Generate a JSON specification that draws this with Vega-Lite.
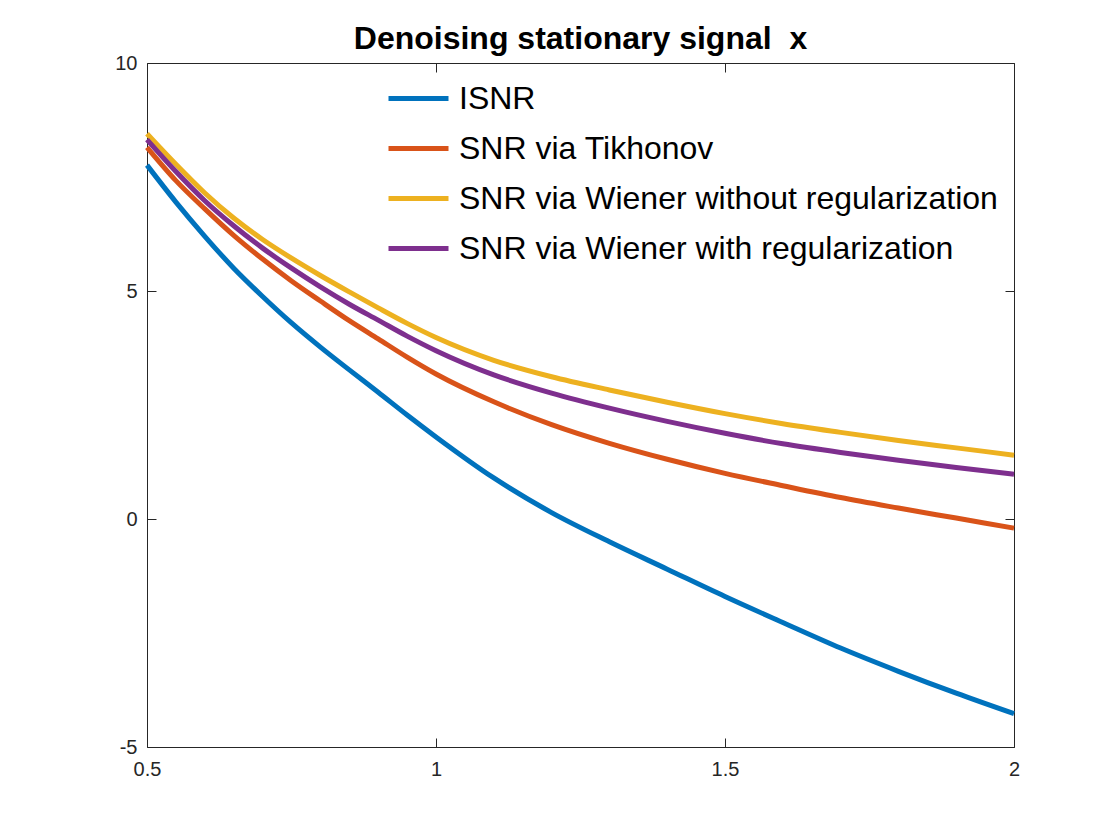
{
  "$schema": "https://vega.github.io/schema/vega-lite/v6.json",
  "autosize": "none",
  "width": 867,
  "height": 684,
  "padding": {"left": 147, "top": 63, "right": 106, "bottom": 93},
  "background": "white",
  "title": {"text": "Denoising stationary signal\u00a0 x", "font": "Liberation Sans", "fontSize": 32, "fontWeight": "bold", "color": "black", "offset": -3, "anchor": "middle"},
  "config": {"view": {"stroke": null}, "axis": {"labelFont": "Liberation Sans", "labelFontSize": 20, "labelColor": "#262626", "domainColor": "#262626", "tickColor": "#262626", "grid": false, "title": null, "labelFlush": false, "labelOverlap": false}},
  "data": {"values": [
    {"x":0.5,"s":"ISNR","v":7.76},{"x":0.55,"s":"ISNR","v":6.95},{"x":0.6,"s":"ISNR","v":6.2},{"x":0.65,"s":"ISNR","v":5.5},{"x":0.7,"s":"ISNR","v":4.88},{"x":0.75,"s":"ISNR","v":4.3},{"x":0.8,"s":"ISNR","v":3.77},{"x":0.85,"s":"ISNR","v":3.27},{"x":0.9,"s":"ISNR","v":2.78},{"x":0.95,"s":"ISNR","v":2.28},{"x":1.0,"s":"ISNR","v":1.8},{"x":1.1,"s":"ISNR","v":0.9},{"x":1.2,"s":"ISNR","v":0.14},{"x":1.3,"s":"ISNR","v":-0.5},{"x":1.4,"s":"ISNR","v":-1.1},{"x":1.5,"s":"ISNR","v":-1.7},{"x":1.6,"s":"ISNR","v":-2.27},{"x":1.7,"s":"ISNR","v":-2.83},{"x":1.8,"s":"ISNR","v":-3.34},{"x":1.9,"s":"ISNR","v":-3.82},{"x":2.0,"s":"ISNR","v":-4.27},
    {"x":0.5,"s":"SNR via Tikhonov","v":8.15},{"x":0.55,"s":"SNR via Tikhonov","v":7.42},{"x":0.6,"s":"SNR via Tikhonov","v":6.8},{"x":0.65,"s":"SNR via Tikhonov","v":6.22},{"x":0.7,"s":"SNR via Tikhonov","v":5.7},{"x":0.75,"s":"SNR via Tikhonov","v":5.22},{"x":0.8,"s":"SNR via Tikhonov","v":4.78},{"x":0.85,"s":"SNR via Tikhonov","v":4.35},{"x":0.9,"s":"SNR via Tikhonov","v":3.95},{"x":0.95,"s":"SNR via Tikhonov","v":3.55},{"x":1.0,"s":"SNR via Tikhonov","v":3.18},{"x":1.1,"s":"SNR via Tikhonov","v":2.57},{"x":1.2,"s":"SNR via Tikhonov","v":2.07},{"x":1.3,"s":"SNR via Tikhonov","v":1.66},{"x":1.4,"s":"SNR via Tikhonov","v":1.31},{"x":1.5,"s":"SNR via Tikhonov","v":1.0},{"x":1.6,"s":"SNR via Tikhonov","v":0.73},{"x":1.7,"s":"SNR via Tikhonov","v":0.47},{"x":1.8,"s":"SNR via Tikhonov","v":0.24},{"x":1.9,"s":"SNR via Tikhonov","v":0.02},{"x":2.0,"s":"SNR via Tikhonov","v":-0.2},
    {"x":0.5,"s":"SNR via Wiener without regularization","v":8.45},{"x":0.55,"s":"SNR via Wiener without regularization","v":7.78},{"x":0.6,"s":"SNR via Wiener without regularization","v":7.15},{"x":0.65,"s":"SNR via Wiener without regularization","v":6.6},{"x":0.7,"s":"SNR via Wiener without regularization","v":6.13},{"x":0.75,"s":"SNR via Wiener without regularization","v":5.72},{"x":0.8,"s":"SNR via Wiener without regularization","v":5.34},{"x":0.85,"s":"SNR via Wiener without regularization","v":4.98},{"x":0.9,"s":"SNR via Wiener without regularization","v":4.63},{"x":0.95,"s":"SNR via Wiener without regularization","v":4.29},{"x":1.0,"s":"SNR via Wiener without regularization","v":3.98},{"x":1.1,"s":"SNR via Wiener without regularization","v":3.48},{"x":1.2,"s":"SNR via Wiener without regularization","v":3.12},{"x":1.3,"s":"SNR via Wiener without regularization","v":2.83},{"x":1.4,"s":"SNR via Wiener without regularization","v":2.56},{"x":1.5,"s":"SNR via Wiener without regularization","v":2.31},{"x":1.6,"s":"SNR via Wiener without regularization","v":2.09},{"x":1.7,"s":"SNR via Wiener without regularization","v":1.9},{"x":1.8,"s":"SNR via Wiener without regularization","v":1.72},{"x":1.9,"s":"SNR via Wiener without regularization","v":1.56},{"x":2.0,"s":"SNR via Wiener without regularization","v":1.4},
    {"x":0.5,"s":"SNR via Wiener with regularization","v":8.32},{"x":0.55,"s":"SNR via Wiener with regularization","v":7.62},{"x":0.6,"s":"SNR via Wiener with regularization","v":6.98},{"x":0.65,"s":"SNR via Wiener with regularization","v":6.43},{"x":0.7,"s":"SNR via Wiener with regularization","v":5.94},{"x":0.75,"s":"SNR via Wiener with regularization","v":5.5},{"x":0.8,"s":"SNR via Wiener with regularization","v":5.09},{"x":0.85,"s":"SNR via Wiener with regularization","v":4.71},{"x":0.9,"s":"SNR via Wiener with regularization","v":4.36},{"x":0.95,"s":"SNR via Wiener with regularization","v":4.01},{"x":1.0,"s":"SNR via Wiener with regularization","v":3.69},{"x":1.1,"s":"SNR via Wiener with regularization","v":3.16},{"x":1.2,"s":"SNR via Wiener with regularization","v":2.76},{"x":1.3,"s":"SNR via Wiener with regularization","v":2.43},{"x":1.4,"s":"SNR via Wiener with regularization","v":2.14},{"x":1.5,"s":"SNR via Wiener with regularization","v":1.88},{"x":1.6,"s":"SNR via Wiener with regularization","v":1.65},{"x":1.7,"s":"SNR via Wiener with regularization","v":1.46},{"x":1.8,"s":"SNR via Wiener with regularization","v":1.29},{"x":1.9,"s":"SNR via Wiener with regularization","v":1.13},{"x":2.0,"s":"SNR via Wiener with regularization","v":0.98}
  ]},
  "layer": [
    {
      "mark": {"type": "line", "strokeWidth": 5, "interpolate": "monotone"},
      "encoding": {
        "x": {"field": "x", "type": "quantitative", "scale": {"domain": [0.5, 2], "nice": false, "zero": false}, "axis": {"orient": "bottom", "values": [0.5, 1, 1.5, 2], "tickSize": -9, "labelPadding": 21, "labelFontSize": 20, "labelExpr": "datum.value + ''"}},
        "y": {"field": "v", "type": "quantitative", "scale": {"domain": [-5, 10], "nice": false, "zero": false}, "axis": {"orient": "left", "values": [-5, 0, 5, 10], "tickSize": -9, "labelPadding": 19, "labelFontSize": 20, "labelExpr": "datum.value + ''"}},
        "color": {"field": "s", "type": "nominal", "scale": {"domain": ["ISNR", "SNR via Tikhonov", "SNR via Wiener without regularization", "SNR via Wiener with regularization"], "range": ["#0072BD", "#D95319", "#EDB120", "#7E2F8E"]},
          "legend": {"title": null, "orient": "none", "legendX": 239, "legendY": 3, "symbolType": "stroke", "symbolSize": 3600, "symbolStrokeWidth": 5, "labelFont": "Liberation Sans", "labelFontSize": 32, "labelColor": "black", "labelOffset": 8, "rowPadding": 1, "labelLimit": 800}}
      }
    },
    {
      "mark": {"type": "rule", "opacity": 0},
      "encoding": {
        "x": {"datum": 0.5, "type": "quantitative", "axis": {"orient": "top", "values": [0.5, 1, 1.5, 2], "tickSize": -9, "labels": false}},
        "y": {"datum": 0, "type": "quantitative", "axis": {"orient": "right", "values": [-5, 0, 5, 10], "tickSize": -9, "labels": false}}
      }
    }
  ],
  "resolve": {"axis": {"x": "independent", "y": "independent"}}
}
